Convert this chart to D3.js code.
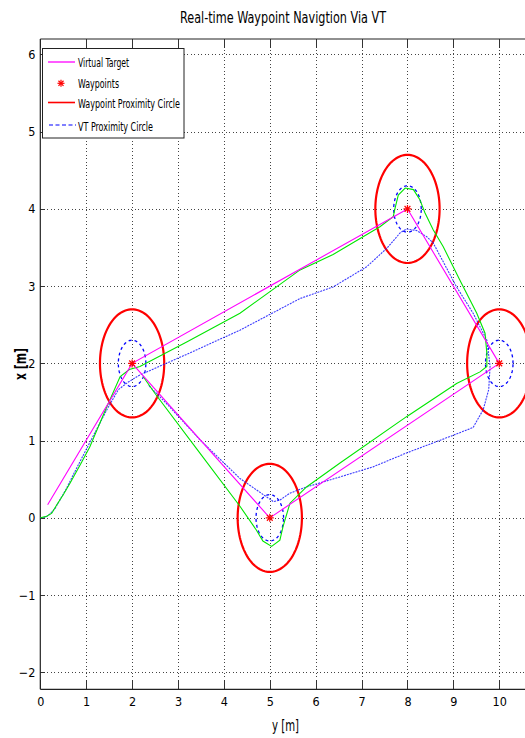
<!DOCTYPE html>
<html>
<head>
<meta charset="utf-8">
<script src="https://cdn.jsdelivr.net/npm/d3@7"></script>
<style>
  html, body { margin: 0; padding: 0; background: #fff; }
  svg { display: block; }
  text { font-family: "Liberation Sans Narrow", "Arial Narrow", "DejaVu Sans Condensed", "Liberation Sans", sans-serif; fill: #000; }
</style>
</head>
<body>
<script>
// Horizontal axis carries y [m], vertical axis carries x [m]; every point is [y, x].
const titleText = "Real-time Waypoint Navigtion Via VT";
const xTicks = [0, 1, 2, 3, 4, 5, 6, 7, 8, 9, 10];
const yTicks = [-2, -1, 0, 1, 2, 3, 4, 5, 6];

// Waypoints in visiting order
const waypointY = [2, 8, 10, 5];
const waypointX = [2, 4, 2, 0];
const waypointRadius = 0.7;   // waypoint proximity circle
const vtRadius = 0.3;         // virtual-target proximity circle

// Virtual target path
const vtPath = [[0.16, 0.17], [2, 2], [8, 4], [10, 2], [5, 0], [2, 2]];

// Vehicle track (green)
const trackGreen = [
  [0, 0], [0.14, 0.02], [0.25, 0.06], [0.36, 0.17], [0.5, 0.3], [0.65, 0.45],
  [0.9, 0.72], [1.08, 0.92], [1.4, 1.37], [1.74, 1.83], [1.94, 1.92], [2.17, 1.96],
  [3.2, 2.28], [4.35, 2.65], [5.66, 3.21], [6.38, 3.41], [7.4, 3.77], [7.69, 3.9],
  [7.73, 4.01], [7.8, 4.18], [7.95, 4.27], [8.13, 4.25], [8.27, 4.12], [8.38, 3.95],
  [8.56, 3.73], [8.78, 3.51], [9.14, 3.08], [9.51, 2.65], [9.69, 2.39], [9.73, 2.13],
  [9.73, 1.96], [9.58, 1.89], [9.07, 1.74], [7.98, 1.31], [6.53, 0.71], [5.8, 0.4],
  [5.44, 0.19], [5.29, -0.11], [5.22, -0.29], [5.04, -0.37], [4.85, -0.3], [4.71, -0.16],
  [4.35, 0.15], [3.4, 0.9], [2.5, 1.61], [2.24, 1.83]
];

// Second vehicle track (blue, dotted)
const trackBlue = [
  [0, 0], [0.12, 0.01], [0.21, 0.05], [0.32, 0.12], [0.57, 0.38], [0.72, 0.56],
  [1.1, 1.0], [1.45, 1.4], [1.7, 1.66], [1.92, 1.76], [2.17, 1.85], [3.2, 2.12],
  [4.35, 2.43], [5.66, 2.84], [6.38, 2.99], [7.11, 3.25], [7.55, 3.49], [7.84, 3.69],
  [7.98, 3.74], [8.2, 3.72], [8.42, 3.64], [8.56, 3.56], [9.07, 2.99], [9.43, 2.65],
  [9.73, 2.3], [9.8, 1.96], [9.77, 1.66], [9.65, 1.4], [9.43, 1.17], [9.0, 1.07],
  [7.98, 0.84], [7.25, 0.66], [6.53, 0.53], [5.8, 0.4], [5.44, 0.32], [5.22, 0.23],
  [5.08, 0.21], [4.86, 0.3], [4.35, 0.51], [3.48, 1.01], [2.75, 1.48], [2.35, 1.72]
];

const legendItems = ["Virtual Target", "Waypoints", "Waypoint Proximity Circle", "VT Proximity Circle"];

const W = 525, H = 738;
const plot = { left: 40.3, right: 526.8, top: 39, bottom: 689.3 };

const svg = d3.select("body").append("svg").attr("width", W).attr("height", H);

const x = d3.scaleLinear().domain([0, 10.6]).range([plot.left, plot.right]);
const y = d3.scaleLinear().domain([-2.22, 6.2]).range([plot.bottom, plot.top]);

svg.append("defs").append("clipPath").attr("id", "plotClip")
  .append("rect").attr("x", plot.left).attr("y", plot.top)
  .attr("width", plot.right - plot.left).attr("height", plot.bottom - plot.top);

// Grid
const grid = svg.append("g").attr("stroke", "#444").attr("stroke-width", 1)
  .attr("stroke-dasharray", "1,2.5").attr("shape-rendering", "crispEdges");
grid.selectAll("line.v").data(xTicks.filter(d => d > 0)).join("line")
  .attr("x1", d => Math.round(x(d)) + 0.5).attr("x2", d => Math.round(x(d)) + 0.5)
  .attr("y1", plot.top).attr("y2", plot.bottom);
grid.selectAll("line.h").data(yTicks).join("line")
  .attr("y1", d => Math.round(y(d)) + 0.5).attr("y2", d => Math.round(y(d)) + 0.5)
  .attr("x1", plot.left).attr("x2", plot.right);

// Axes
const bottomAxis = d3.axisBottom(x).tickValues(xTicks).tickSize(0).tickPadding(8).tickFormat(d3.format("d"));
const gx = svg.append("g").attr("transform", `translate(0,${plot.bottom})`).call(bottomAxis);
gx.select(".domain").remove();
gx.selectAll("text").attr("font-size", 12.5);

const leftAxis = d3.axisLeft(y).tickValues(yTicks).tickSize(0).tickPadding(5).tickFormat(d3.format("d"));
const gy = svg.append("g").attr("transform", `translate(${plot.left},0)`).call(leftAxis);
gy.select(".domain").remove();
gy.selectAll("text").attr("font-size", 12.5);

// Tick marks pointing inward
const tk = svg.append("g").attr("stroke", "#333").attr("stroke-width", 1).attr("shape-rendering", "crispEdges");
xTicks.forEach(d => {
  const px = Math.round(x(d)) + 0.5;
  tk.append("line").attr("x1", px).attr("x2", px).attr("y1", plot.bottom).attr("y2", plot.bottom - 9);
  tk.append("line").attr("x1", px).attr("x2", px).attr("y1", plot.top).attr("y2", plot.top + 9);
});
yTicks.forEach(d => {
  const py = Math.round(y(d)) + 0.5;
  tk.append("line").attr("x1", plot.left).attr("x2", plot.left + 5).attr("y1", py).attr("y2", py);
});

// Axis frame
const frame = svg.append("g").attr("stroke", "#222").attr("stroke-width", 1.2).attr("fill", "none");
frame.append("line").attr("x1", plot.left).attr("x2", plot.left).attr("y1", plot.top).attr("y2", plot.bottom);
frame.append("line").attr("x1", plot.left).attr("x2", W).attr("y1", plot.bottom).attr("y2", plot.bottom);
frame.append("line").attr("x1", plot.left).attr("x2", W).attr("y1", plot.top).attr("y2", plot.top);

// Data layer
const layer = svg.append("g").attr("clip-path", "url(#plotClip)");
const line = d3.line().x(d => x(d[0])).y(d => y(d[1]));
const circlePath = (cy, cx, r) => {
  const ring = d3.range(0, 361, 3).map(a => [cy + r * Math.cos(a * Math.PI / 180), cx + r * Math.sin(a * Math.PI / 180)]);
  return line(ring);
};
const waypoints = waypointY.map((v, i) => [v, waypointX[i]]);

// Proximity circles
layer.selectAll("path.wpc").data(waypoints).join("path")
  .attr("d", d => circlePath(d[0], d[1], waypointRadius))
  .attr("fill", "none").attr("stroke", "#ff0000").attr("stroke-width", 2.2);
layer.selectAll("path.vtc").data(waypoints).join("path")
  .attr("d", d => circlePath(d[0], d[1], vtRadius))
  .attr("fill", "none").attr("stroke", "#0000ff").attr("stroke-width", 1.3)
  .attr("stroke-dasharray", "3,3");

// Tracks
layer.append("path").attr("d", line(trackBlue)).attr("fill", "none")
  .attr("stroke", "#1a1aff").attr("stroke-width", 1.1).attr("stroke-dasharray", "2,1").attr("opacity", 0.85);
layer.append("path").attr("d", line(trackGreen)).attr("fill", "none")
  .attr("stroke", "#00e600").attr("stroke-width", 1.1);
layer.append("path").attr("d", line(vtPath)).attr("fill", "none")
  .attr("stroke", "#ff00ff").attr("stroke-width", 1.1);

// Asterisk marker
function asterisk(g, cx, cy, r) {
  const a = r * 0.72;
  const segs = [[-r, 0, r, 0], [0, -r, 0, r], [-a, -a, a, a], [-a, a, a, -a]];
  segs.forEach(s => g.append("line")
    .attr("x1", cx + s[0]).attr("y1", cy + s[1]).attr("x2", cx + s[2]).attr("y2", cy + s[3])
    .attr("stroke", "#ff0000").attr("stroke-width", 1.2));
}
waypoints.forEach(d => asterisk(layer, x(d[0]), y(d[1]), 4));

// Title and axis labels
svg.append("text").attr("x", 283).attr("y", 23).attr("text-anchor", "middle")
  .attr("font-size", 15).attr("textLength", 206).attr("lengthAdjust", "spacingAndGlyphs").text(titleText);
svg.append("text").attr("x", 285.5).attr("y", 731).attr("text-anchor", "middle")
  .attr("font-size", 15).attr("textLength", 27).attr("lengthAdjust", "spacingAndGlyphs").text("y [m]");
svg.append("text").attr("transform", `translate(26,364) rotate(-90)`).attr("text-anchor", "middle")
  .attr("font-size", 15).attr("font-weight", "bold").attr("textLength", 32).attr("lengthAdjust", "spacingAndGlyphs").text("x [m]");

// Legend
const lg = svg.append("g");
lg.append("rect").attr("x", 42.5).attr("y", 48.5).attr("width", 141.5).attr("height", 89.5)
  .attr("fill", "#fff").attr("stroke", "#222").attr("stroke-width", 1);
const rowY = [62, 83.3, 102.5, 125];
const baseY = [66.7, 87.7, 108.3, 130.7];
const textLen = [51, 41, 102, 75];
lg.append("line").attr("x1", 48).attr("x2", 75).attr("y1", rowY[0]).attr("y2", rowY[0])
  .attr("stroke", "#ff00ff").attr("stroke-width", 1.3);
asterisk(lg, 61, rowY[1], 3.5);
lg.append("line").attr("x1", 48).attr("x2", 75).attr("y1", rowY[2]).attr("y2", rowY[2])
  .attr("stroke", "#ff0000").attr("stroke-width", 1.6);
lg.append("line").attr("x1", 49).attr("x2", 76).attr("y1", rowY[3]).attr("y2", rowY[3])
  .attr("stroke", "#0000ff").attr("stroke-width", 1.2).attr("stroke-dasharray", "4,2.5");
lg.selectAll("text.item").data(legendItems).join("text")
  .attr("x", 78).attr("y", (d, i) => baseY[i]).attr("font-size", 12)
  .attr("textLength", (d, i) => textLen[i]).attr("lengthAdjust", "spacingAndGlyphs")
  .text(d => d);
</script>
</body>
</html>
